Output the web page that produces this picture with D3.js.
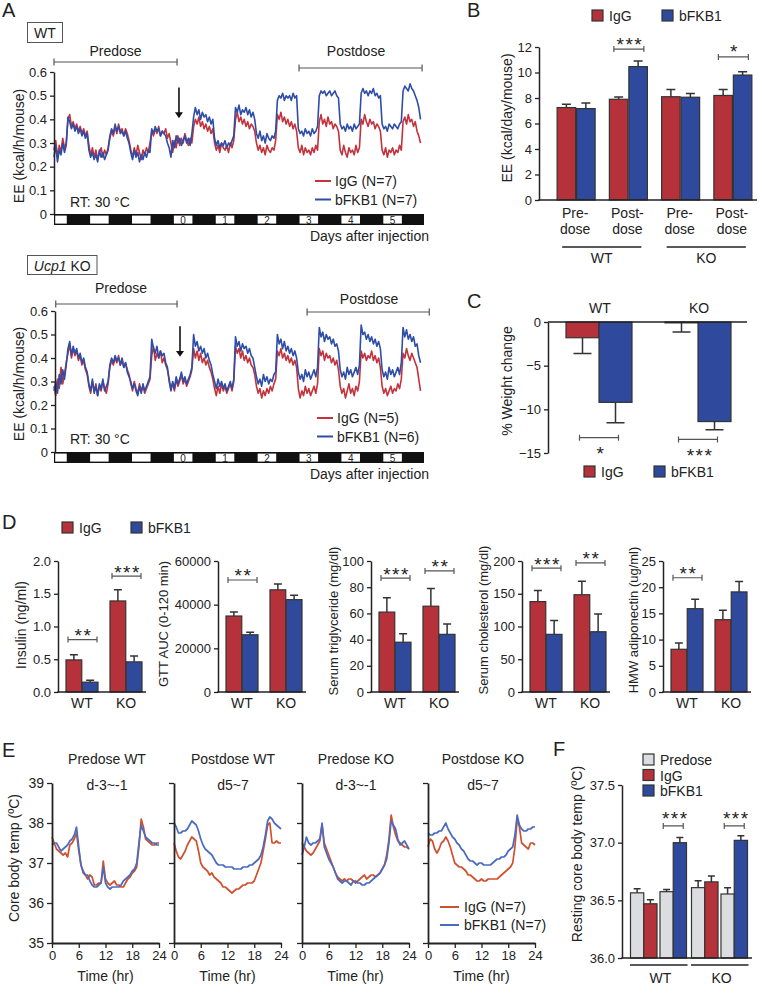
<!DOCTYPE html>
<html><head><meta charset="utf-8">
<script src="https://cdn.jsdelivr.net/npm/d3@7"></script>
<style>
body{margin:0;background:#fff;}
svg{font-family:"Liberation Sans",Arial,Helvetica,sans-serif;}
</style></head>
<body><svg id="fig" width="759" height="986"></svg>
<script>
// ================= DATA =================
// Panel A: energy expenditure (kcal/h/mouse), hourly samples from -68 h to +142 h
const eeStartHour = -68, eeStepHours = 1, eeDomain = [-68, 144];
const eeTicks = [0, 0.1, 0.2, 0.3, 0.4, 0.5, 0.6];
const lightStarts = [-72, -48, -24, 0, 24, 48, 72, 96, 120];
const dayLabels = ["", "", "", "0", "1", "2", "3", "4", "5"];
const eeWT_IgG = [
 .27,.31,.24,.29,.26,.32,.28,.30,
 .40,.42,.37,.39,.36,.38,.35,.37,.34,.36,.33,.35,
 .29,.25,.28,.24,.27,.23,.26,.28,.24,.27,.25,.28,
 .32,.35,.33,.37,.34,.38,.35,.36,.33,.36,.34,.31,
 .27,.24,.28,.25,.29,.26,.23,.27,.25,.28,.26,.30,
 .35,.33,.36,.34,.37,.33,.35,.34,.36,.32,.34,.30,
 .26,.31,.28,.33,.29,.32,.30,.34,.31,.29,.32,.30,
 .37,.40,.38,.41,.37,.39,.36,.38,.35,.37,.34,.36,
 .30,.27,.29,.26,.30,.28,.27,.29,.26,.30,.28,.31,
 .40,.43,.39,.41,.38,.40,.37,.39,.36,.38,.37,.35,
 .30,.27,.29,.26,.28,.25,.29,.27,.26,.28,.27,.31,
 .42,.40,.43,.39,.41,.38,.40,.37,.39,.36,.38,.35,
 .28,.26,.29,.25,.28,.26,.27,.25,.28,.26,.29,.27,
 .39,.42,.38,.40,.37,.41,.38,.39,.36,.38,.37,.35,
 .27,.25,.29,.26,.24,.28,.26,.27,.25,.29,.26,.28,
 .40,.38,.42,.39,.37,.40,.38,.39,.36,.38,.37,.35,
 .27,.25,.28,.24,.27,.26,.28,.25,.27,.26,.29,.27,
 .39,.41,.38,.42,.39,.40,.37,.39,.35,.33,.30];
const eeWT_bFKB1 = [
 .24,.29,.22,.27,.25,.30,.26,.29,
 .41,.39,.36,.38,.35,.37,.34,.36,.33,.35,.32,.34,
 .27,.24,.26,.23,.25,.22,.27,.24,.26,.23,.25,.27,
 .33,.36,.34,.38,.35,.37,.34,.35,.33,.35,.32,.30,
 .26,.23,.27,.24,.26,.22,.25,.23,.26,.24,.27,.26,
 .36,.34,.37,.35,.36,.33,.35,.34,.33,.30,.28,.24,
 .31,.28,.33,.30,.32,.29,.31,.33,.30,.32,.29,.34,
 .41,.45,.42,.44,.40,.43,.41,.42,.39,.41,.38,.40,
 .32,.29,.31,.28,.30,.29,.31,.28,.30,.29,.31,.33,
 .45,.43,.46,.42,.44,.43,.45,.42,.44,.41,.43,.40,
 .34,.32,.35,.31,.33,.30,.34,.32,.31,.33,.32,.35,
 .48,.50,.49,.51,.48,.50,.49,.50,.48,.51,.49,.50,
 .36,.34,.35,.33,.36,.34,.35,.33,.36,.34,.35,.37,
 .50,.52,.51,.52,.50,.51,.52,.50,.51,.52,.50,.49,
 .38,.36,.37,.35,.38,.36,.37,.35,.38,.36,.37,.38,
 .51,.53,.51,.52,.50,.52,.51,.53,.50,.51,.49,.50,
 .38,.36,.37,.35,.38,.37,.36,.38,.37,.36,.38,.39,
 .52,.54,.53,.52,.55,.53,.52,.50,.48,.45,.40];
const eeKO_IgG = [
 .28,.24,.31,.27,.36,.29,.33,.38,
 .42,.46,.40,.44,.41,.43,.39,.41,.37,.39,.35,.33,
 .28,.25,.30,.26,.29,.24,.28,.26,.30,.27,.25,.29,
 .36,.39,.37,.40,.38,.41,.37,.39,.36,.38,.35,.33,
 .29,.26,.30,.27,.25,.29,.26,.28,.25,.27,.29,.31,
 .41,.45,.39,.42,.40,.43,.38,.40,.37,.35,.31,.27,
 .29,.26,.31,.28,.30,.33,.29,.31,.28,.30,.32,.35,
 .44,.40,.43,.39,.42,.38,.40,.37,.39,.36,.34,.31,
 .27,.24,.28,.25,.29,.26,.28,.25,.27,.29,.26,.30,
 .45,.42,.44,.40,.43,.39,.41,.38,.40,.37,.36,.33,
 .28,.25,.27,.23,.26,.24,.27,.25,.28,.26,.29,.31,
 .43,.41,.44,.40,.42,.39,.41,.38,.40,.37,.39,.36,
 .27,.23,.26,.24,.28,.25,.27,.24,.26,.28,.25,.29,
 .44,.41,.43,.39,.42,.40,.41,.38,.40,.37,.39,.35,
 .28,.25,.27,.23,.26,.29,.25,.27,.24,.28,.26,.30,
 .43,.40,.42,.39,.41,.40,.43,.39,.41,.38,.40,.36,
 .28,.25,.27,.24,.26,.28,.25,.27,.26,.29,.27,.31,
 .42,.40,.44,.41,.39,.42,.40,.38,.36,.31,.26];
const eeKO_bFKB1 = [
 .26,.30,.25,.33,.29,.35,.31,.37,
 .44,.47,.41,.45,.42,.44,.40,.42,.38,.40,.36,.34,
 .29,.26,.31,.25,.28,.24,.29,.27,.31,.26,.28,.30,
 .37,.40,.38,.41,.39,.40,.37,.40,.36,.38,.34,.32,
 .30,.27,.29,.26,.24,.28,.25,.29,.26,.28,.30,.32,
 .48,.44,.42,.45,.40,.43,.41,.42,.38,.36,.30,.26,
 .30,.27,.32,.29,.31,.34,.30,.32,.29,.31,.33,.36,
 .50,.45,.47,.43,.45,.42,.44,.40,.42,.39,.37,.33,
 .30,.27,.31,.28,.30,.27,.29,.26,.28,.30,.27,.31,
 .49,.45,.47,.43,.46,.44,.45,.42,.44,.41,.40,.36,
 .32,.29,.31,.28,.33,.30,.32,.29,.31,.30,.33,.34,
 .50,.46,.48,.44,.47,.43,.45,.42,.44,.41,.43,.40,
 .34,.31,.33,.30,.35,.32,.34,.31,.33,.35,.32,.36,
 .53,.49,.51,.47,.50,.48,.49,.46,.48,.45,.46,.43,
 .35,.32,.34,.31,.36,.33,.35,.32,.34,.36,.33,.37,
 .54,.50,.51,.48,.50,.47,.49,.46,.48,.45,.47,.44,
 .35,.32,.34,.31,.36,.33,.35,.32,.34,.36,.33,.38,
 .53,.49,.52,.48,.50,.47,.49,.45,.46,.41,.38];

// Panel B: daily EE (kcal/day/mouse)
const bCats = ["Pre-dose WT", "Post-dose WT", "Pre-dose KO", "Post-dose KO"];
const bTickLines = [["Pre-", "dose"], ["Post-", "dose"], ["Pre-", "dose"], ["Post-", "dose"]];
const bGenotypes = [{label: "WT", cats: ["Pre-dose WT", "Post-dose WT"]}, {label: "KO", cats: ["Pre-dose KO", "Post-dose KO"]}];
const bIgG = [7.25, 7.9, 8.1, 8.2], bIgGErr = [0.26, 0.18, 0.57, 0.47];
const bFKB = [7.17, 10.46, 8.06, 9.8], bFKBErr = [0.44, 0.44, 0.29, 0.25];
const bTicks = [0, 2, 4, 6, 8, 10, 12];
const bSig = [{cat: "Post-dose WT", label: "***", level: 11.84}, {cat: "Post-dose KO", label: "*", level: 11.22}];

// Panel C: % weight change
const cGroups = ["WT", "KO"];
const cIgG = [-1.8, -0.1], cIgGErr = [1.8, 1.05];
const cFKB = [-9.2, -11.4], cFKBErr = [2.35, 0.95];
const cTicks = [0, -5, -10, -15];
const cSig = [{group: "WT", label: "*", level: -13.25}, {group: "KO", label: "***", level: -13.45}];

// Panel D: serum parameters
const dGroups = ["WT", "KO"];
const insulinIgG = [0.49, 1.39], insulinIgGErr = [0.08, 0.17], insulinFKB = [0.15, 0.46], insulinFKBErr = [0.03, 0.09];
const insulinSig = [{group: "WT", label: "**", level: 0.8}, {group: "KO", label: "***", level: 1.77}];
const gttIgG = [34800, 46800], gttIgGErr = [1800, 2700], gttFKB = [26200, 42300], gttFKBErr = [1200, 2000];
const gttSig = [{group: "WT", label: "**", level: 51300}];
const tgIgG = [61, 65.5], tgIgGErr = [11, 13.5], tgFKB = [38, 44], tgFKBErr = [6.5, 8];
const tgSig = [{group: "WT", label: "***", level: 87}, {group: "KO", label: "**", level: 92.4}];
const cholIgG = [138, 148.5], cholIgGErr = [17, 20.5], cholFKB = [88, 92], cholFKBErr = [21, 27];
const cholSig = [{group: "WT", label: "***", level: 189}, {group: "KO", label: "**", level: 197}];
const adipoIgG = [8.15, 13.8], adipoIgGErr = [1.2, 1.8], adipoFKB = [15.9, 19.1], adipoFKBErr = [1.8, 2.0];
const adipoSig = [{group: "WT", label: "**", level: 21.8}];

// Panel E: core body temperature, 0.5 h samples over 24 h
const tempStepHours = 0.5;
const tempTicksY = [35, 36, 37, 38, 39], tempTicksX = [0, 6, 12, 18, 24];
const tPreWT_IgG = [37.65,37.5,37.35,37.3,37.25,37.2,37.25,37.15,37.45,37.5,37.6,37.75,37.3,36.95,36.8,36.7,36.6,36.7,36.65,36.45,36.45,36.5,36.5,37.05,36.6,36.5,36.45,36.5,36.55,36.45,36.45,36.4,36.4,36.5,36.6,36.65,36.75,36.8,36.9,37.4,38.1,37.9,37.6,37.55,37.5,37.45,37.45,37.5,37.5];
const tPreWT_bFKB1 = [37.45,37.5,37.5,37.4,37.3,37.35,37.4,37.45,37.55,37.6,37.7,37.9,37.4,36.95,36.75,36.7,36.7,36.55,36.45,36.4,36.4,36.45,36.5,36.9,36.5,36.4,36.35,36.4,36.4,36.4,36.4,36.45,36.55,36.6,36.65,36.7,36.8,36.85,37.0,37.5,37.95,37.8,37.65,37.6,37.55,37.5,37.5,37.45,37.45];
const tPostWT_IgG = [37.5,37.3,37.15,37.1,37.2,37.3,37.45,37.55,37.65,37.6,37.55,37.3,37.0,36.9,36.85,36.8,36.7,36.75,36.65,36.6,36.55,36.5,36.4,36.4,36.35,36.3,36.25,36.3,36.35,36.35,36.4,36.45,36.45,36.5,36.5,36.5,36.55,36.7,36.85,37.0,37.3,37.6,37.95,38.0,37.5,37.5,37.55,37.5,37.5];
const tPostWT_bFKB1 = [38.0,37.9,37.75,37.75,37.8,37.8,37.85,37.95,38.05,38.0,37.95,37.8,37.6,37.45,37.35,37.3,37.25,37.2,37.1,37.0,36.95,36.95,36.95,36.9,36.9,36.9,36.9,36.85,36.85,36.85,36.85,36.9,36.9,36.9,36.95,36.95,37.0,37.05,37.1,37.2,37.4,37.7,38.05,38.15,38.1,38.0,37.95,37.9,37.85];
const tPreKO_IgG = [37.5,37.4,37.3,37.25,37.2,37.25,37.35,37.45,37.55,37.95,37.5,37.35,37.2,37.05,36.9,36.75,36.65,36.6,36.55,36.6,36.55,36.6,36.6,36.55,36.5,36.55,36.6,36.65,36.7,36.6,36.65,36.7,36.7,36.65,36.7,36.75,36.85,36.95,37.2,37.6,38.2,37.9,37.7,37.55,37.5,37.45,37.4,37.4,37.35];
const tPreKO_bFKB1 = [37.2,37.4,37.65,37.5,37.45,37.5,37.5,37.55,37.6,38.0,37.4,37.25,37.1,37.0,36.9,36.75,36.6,36.55,36.5,36.55,36.55,36.5,36.45,36.55,36.55,36.5,36.5,36.45,36.45,36.5,36.5,36.55,36.6,36.65,36.7,36.75,36.85,36.95,37.1,37.5,38.05,37.95,37.85,37.6,37.45,37.5,37.55,37.45,37.35];
const tPostKO_IgG = [37.4,37.6,37.55,37.35,37.25,37.35,37.5,37.55,37.65,37.55,37.4,37.2,37.0,36.95,36.9,36.9,36.85,36.8,36.7,36.7,36.65,36.6,36.55,36.55,36.6,36.55,36.55,36.6,36.6,36.6,36.6,36.6,36.65,36.7,36.75,36.8,36.85,36.9,37.0,37.4,38.1,37.9,37.5,37.45,37.4,37.35,37.5,37.5,37.45];
const tPostKO_bFKB1 = [37.75,37.7,37.7,37.75,37.75,37.8,37.8,37.9,38.0,37.85,37.75,37.65,37.6,37.5,37.45,37.35,37.3,37.2,37.1,37.05,37.05,37.0,36.95,37.0,37.0,36.95,36.95,36.95,36.95,37.0,37.05,37.1,37.1,37.15,37.15,37.2,37.3,37.35,37.4,37.7,38.2,37.95,37.85,37.8,37.8,37.85,37.85,37.9,37.9];

// Panel F: resting core body temperature
const fGroups = ["WT", "KO"];
const fPreIgGArm = [36.565, 36.61], fPreIgGArmErr = [0.035, 0.06];
const fIgG = [36.47, 36.66], fIgGErr = [0.035, 0.05];
const fPreFKBArm = [36.575, 36.555], fPreFKBArmErr = [0.02, 0.055];
const fFKB = [37.0, 37.02], fFKBErr = [0.045, 0.04];
const fTicks = [36.0, 36.5, 37.0, 37.5];
const fSigLevel = 37.145;

// ================= DRAWING =================
const FONT = '"Liberation Sans", Arial, Helvetica, sans-serif';
const INK = "#222";
const RED = "#b5323a", BLUE = "#2f4a9d", GRAY = "#dcdde0";
const A_RED = "#c4333b", A_BLUE = "#2d4da8";
const E_RED = "#d0502e", E_BLUE = "#4a6bc0";
const svg = d3.select("#fig");

function T(x, y, s, o = {}) {
  const t = svg.append("text").attr("x", x).attr("y", y).attr("font-size", o.size || 14)
    .attr("text-anchor", o.anchor || "start").attr("fill", o.fill || INK).text(s);
  if (o.rot) t.attr("transform", `rotate(-90,${x},${y})`);
  if (o.ls) t.attr("letter-spacing", o.ls);
  return t;
}
function styleAxis(g, size) {
  g.attr("font-family", FONT).attr("font-size", size);
  g.select(".domain").attr("stroke", INK).attr("stroke-width", 1.5);
  g.selectAll(".tick line").attr("stroke", INK).attr("stroke-width", 1.3);
  g.selectAll(".tick text").attr("fill", INK);
}
function hline(x0, x1, y, w = 1.5, col = INK) {
  svg.append("line").attr("x1", x0).attr("x2", x1).attr("y1", y).attr("y2", y).attr("stroke", col).attr("stroke-width", w);
}
function bracket(x0, x1, y, h = 3) {
  svg.append("path").attr("d", `M${x0},${y - h}V${y + h}M${x0},${y}H${x1}M${x1},${y - h}V${y + h}`)
    .attr("stroke", "#555").attr("stroke-width", 1.2).attr("fill", "none");
}
function stars(cx, cy, s) {
  T(cx + 1, cy + 10.5, s, {size: 19, anchor: "middle", ls: 1.5});
}
function errBar(cx, y0, y1, cap) {
  svg.append("path").attr("d", `M${cx},${y0}V${y1}M${cx - cap / 2},${y1}H${cx + cap / 2}`)
    .attr("stroke", "#333").attr("stroke-width", 1.5).attr("fill", "none");
}
function bar(x, y0, w, y1, col) {
  svg.append("rect").attr("x", x).attr("y", Math.min(y0, y1)).attr("width", w).attr("height", Math.abs(y1 - y0))
    .attr("fill", col).attr("stroke", "#333").attr("stroke-width", 1.2);
}
function legendSquare(x, y, col, label, size = 14) {
  svg.append("rect").attr("x", x).attr("y", y).attr("width", 11).attr("height", 11).attr("fill", col).attr("stroke", "#333").attr("stroke-width", 1.2);
  T(x + 17, y + 11, label, {size});
}

// ---------- Panel letters ----------
T(2, 17, "A", {size: 20}); T(467, 17, "B", {size: 20}); T(467, 308, "C", {size: 20});
T(2, 529, "D", {size: 20}); T(2, 757, "E", {size: 20}); T(553, 756, "F", {size: 20});

// ---------- Panel A ----------
function drawEE(o) {
  const x = d3.scaleLinear(eeDomain, [o.x0, o.x1]);
  const y = d3.scaleLinear([0, 0.6], [o.yZero, o.yTop]);
  svg.append("rect").attr("x", o.x0).attr("y", o.yZero).attr("width", o.x1 - o.x0).attr("height", 11).attr("fill", "#111");
  lightStarts.forEach((s, i) => {
    const a = x(Math.max(s, eeDomain[0])), b = x(Math.min(s + 12, eeDomain[1]));
    svg.append("rect").attr("x", a + 1.2).attr("y", o.yZero + 1.6).attr("width", b - a - 2.4).attr("height", 8).attr("fill", "#fff");
    if (dayLabels[i]) T((a + b) / 2, o.yZero + 9.8, dayLabels[i], {size: 10, anchor: "middle"});
  });
  const line = d3.line().x((d, i) => x(eeStartHour + i * eeStepHours)).y(d => y(d));
  svg.append("path").datum(o.igg).attr("d", line).attr("fill", "none").attr("stroke", A_RED).attr("stroke-width", 1.6).attr("stroke-linejoin", "round");
  svg.append("path").datum(o.fkb).attr("d", line).attr("fill", "none").attr("stroke", A_BLUE).attr("stroke-width", 1.6).attr("stroke-linejoin", "round");
  const ax = svg.append("g").attr("transform", `translate(${o.axisX},0)`)
    .call(d3.axisLeft(y).tickValues(eeTicks).tickFormat(d => d === 0 ? "0" : d.toFixed(1)).tickSize(4).tickPadding(3).tickSizeOuter(0));
  styleAxis(ax, 13);
  o.brackets.forEach(b => {
    bracket(x(b.from), x(b.to), b.y, 3.5);
    T(b.tx, b.ty, b.label, {size: 14, anchor: "middle"});
  });
  // injection arrow
  const axp = x(o.arrowHour);
  svg.append("line").attr("x1", axp).attr("x2", axp).attr("y1", y(0.535)).attr("y2", y(0.42)).attr("stroke", "#111").attr("stroke-width", 1.6);
  svg.append("path").attr("d", `M${axp - 4},${y(0.43)}L${axp + 4},${y(0.43)}L${axp},${y(0.405)}Z`).attr("fill", "#111");
  // box label
  svg.append("rect").attr("x", o.box[0]).attr("y", o.box[1]).attr("width", o.box[2]).attr("height", o.box[3]).attr("fill", "none").attr("stroke", "#555").attr("stroke-width", 1);
  const bt = svg.append("text").attr("x", o.box[0] + o.box[2] / 2).attr("y", o.box[1] + 15).attr("text-anchor", "middle").attr("font-size", 14).attr("fill", INK);
  o.boxText.forEach(p => bt.append("tspan").attr("font-style", p.italic ? "italic" : "normal").text(p.t));
  // legend
  svg.append("line").attr("x1", o.legX).attr("x2", o.legX + 16).attr("y1", o.legY).attr("y2", o.legY).attr("stroke", A_RED).attr("stroke-width", 2);
  T(o.legX + 20, o.legY + 5, o.legIgG, {size: 14});
  svg.append("line").attr("x1", o.legX).attr("x2", o.legX + 16).attr("y1", o.legY + 18.5).attr("y2", o.legY + 18.5).attr("stroke", A_BLUE).attr("stroke-width", 2);
  T(o.legX + 20, o.legY + 23.5, o.legFKB, {size: 14});
  T(70, o.rtY, "RT: 30 °C", {size: 14});
  T(429, o.daysY, "Days after injection", {size: 14, anchor: "end"});
  T(o.ylabX, o.ylabY, "EE (kcal/h/mouse)", {size: 14, anchor: "middle", rot: true});
}
drawEE({x0: 54, x1: 424, axisX: 54, yZero: 214, yTop: 72, igg: eeWT_IgG, fkb: eeWT_bFKB1,
  brackets: [{from: -68, to: 2.5, y: 62, label: "Predose", tx: 115.5, ty: 56}, {from: 72.4, to: 142.9, y: 68, label: "Postdose", tx: 356, ty: 56}],
  arrowHour: 3.6, box: [27.5, 22.5, 35, 20], boxText: [{t: "WT"}],
  legX: 315, legY: 181, legIgG: "IgG (N=7)", legFKB: "bFKB1 (N=7)", rtY: 207, daysY: 241, ylabX: 24, ylabY: 146});
drawEE({x0: 54, x1: 424, axisX: 55, yZero: 452, yTop: 311, igg: eeKO_IgG, fkb: eeKO_bFKB1,
  brackets: [{from: -67, to: 2.5, y: 304, label: "Predose", tx: 121, ty: 293}, {from: 77, to: 147, y: 312, label: "Postdose", tx: 369, ty: 304}],
  arrowHour: 4.2, box: [27.5, 255.5, 69.5, 19], boxText: [{t: "Ucp1", italic: true}, {t: " KO"}],
  legX: 317, legY: 418, legIgG: "IgG (N=5)", legFKB: "bFKB1 (N=6)", rtY: 444, daysY: 479, ylabX: 24, ylabY: 384});

// ---------- Panel B ----------
{
  const bx = d3.scaleBand(bCats, [550, 759]);
  const bsub = d3.scaleBand(["IgG", "bFKB1"], [-19, 19]).paddingInner(0.05);
  const by = d3.scaleLinear([0, 12], [200, 47]);
  const cx = c => bx(c) + bx.bandwidth() / 2;
  bCats.forEach((c, i) => {
    [[bIgG, bIgGErr, RED, "IgG"], [bFKB, bFKBErr, BLUE, "bFKB1"]].forEach(([v, e, col, k]) => {
      const x0 = cx(c) + bsub(k), w = bsub.bandwidth();
      errBar(x0 + w / 2, by(v[i]), by(v[i] + e[i]), 9);
      bar(x0, by(0), w, by(v[i]), col);
    });
    T(cx(c) - 1, 218, bTickLines[i][0], {size: 14, anchor: "middle"});
    T(cx(c) - 1, 234, bTickLines[i][1], {size: 14, anchor: "middle"});
  });
  const ax = svg.append("g").attr("transform", "translate(539,0)")
    .call(d3.axisLeft(by).tickValues(bTicks).tickSize(4).tickPadding(3).tickSizeOuter(0));
  styleAxis(ax, 13);
  hline(538.3, 757, 200);
  bGenotypes.forEach(g => {
    const a = cx(g.cats[0]) - 14, b = cx(g.cats[1]) + 13;
    hline(a, b, 247, 1.3);
    T((a + b) / 2, 263, g.label, {size: 14, anchor: "middle"});
  });
  bSig.forEach(s => {
    const c = cx(s.cat);
    bracket(c - 14.5, c + 15.5, by(s.level), 3);
    stars(c + 0.5, by(s.level) - 9, s.label);
  });
  T(512, 118, "EE (kcal/day/mouse)", {size: 14, anchor: "middle", rot: true});
  legendSquare(592, 10, RED, "IgG");
  legendSquare(662, 10, BLUE, "bFKB1");
}

// ---------- Panel C ----------
{
  const cx0 = d3.scaleBand(cGroups, [549.5, 747.5]);
  const csub = d3.scaleBand(["IgG", "bFKB1"], [-33, 33]);
  const cy = d3.scaleLinear([-15, 0], [453, 322]);
  const cx = g => cx0(g) + cx0.bandwidth() / 2;
  cGroups.forEach((g, i) => {
    [[cIgG, cIgGErr, RED, "IgG"], [cFKB, cFKBErr, BLUE, "bFKB1"]].forEach(([v, e, col, k]) => {
      const x0 = cx(g) + csub(k), w = csub.bandwidth();
      errBar(x0 + w / 2, cy(v[i]), cy(v[i] - e[i]), 18);
      bar(x0, cy(0), w, cy(v[i]), col);
    });
    T(cx(g) + 1, 313, g, {size: 14, anchor: "middle"});
  });
  hline(548, 747, cy(0));
  const ax = svg.append("g").attr("transform", "translate(548,0)")
    .call(d3.axisLeft(cy).tickValues(cTicks).tickSize(4).tickPadding(3).tickSizeOuter(0));
  styleAxis(ax, 13);
  cSig.forEach(s => {
    const c = cx(s.group);
    bracket(c - 19.5, c + 19.5, cy(s.level), 3);
    stars(c + 1, cy(s.level) + 12, s.label);
  });
  T(512, 381, "% Weight change", {size: 14, anchor: "middle", rot: true});
  legendSquare(584, 466, RED, "IgG");
  legendSquare(654, 466, BLUE, "bFKB1");
}

// ---------- Panel D ----------
{
  const panels = [
    {axisX: 58, domain: [0, 2], ticks: [0, 0.5, 1, 1.5, 2], fmt: d3.format(".1f"), igg: insulinIgG, iggErr: insulinIgGErr, fkb: insulinFKB, fkbErr: insulinFKBErr, sig: insulinSig, label: "Insulin (ng/ml)", lx: 26, ly: 625, ls: 14},
    {axisX: 218, domain: [0, 60000], ticks: [0, 20000, 40000, 60000], fmt: d => String(d), igg: gttIgG, iggErr: gttIgGErr, fkb: gttFKB, fkbErr: gttFKBErr, sig: gttSig, label: "GTT AUC (0-120 min)", lx: 168, ly: 624, ls: 13},
    {axisX: 371, domain: [0, 100], ticks: [0, 20, 40, 60, 80, 100], fmt: d => String(d), igg: tgIgG, iggErr: tgIgGErr, fkb: tgFKB, fkbErr: tgFKBErr, sig: tgSig, label: "Serum triglyceride (mg/dl)", lx: 338, ly: 621, ls: 13},
    {axisX: 522, domain: [0, 200], ticks: [0, 50, 100, 150, 200], fmt: d => String(d), igg: cholIgG, iggErr: cholIgGErr, fkb: cholFKB, fkbErr: cholFKBErr, sig: cholSig, label: "Serum cholesterol (mg/dl)", lx: 488, ly: 620, ls: 13},
    {axisX: 663, domain: [0, 25], ticks: [0, 5, 10, 15, 20, 25], fmt: d => String(d), igg: adipoIgG, iggErr: adipoIgGErr, fkb: adipoFKB, fkbErr: adipoFKBErr, sig: adipoSig, label: "HMW adiponectin (ug/ml)", lx: 638, ly: 620, ls: 13}
  ];
  panels.forEach(p => {
    const y = d3.scaleLinear(p.domain, [692, 561]);
    const gx = d3.scaleBand(dGroups, [p.axisX + 2, p.axisX + 90]);
    const sub = d3.scaleBand(["IgG", "bFKB1"], [-16, 16]).paddingInner(0.03);
    const cx = g => gx(g) + gx.bandwidth() / 2;
    dGroups.forEach((g, i) => {
      [[p.igg, p.iggErr, RED, "IgG"], [p.fkb, p.fkbErr, BLUE, "bFKB1"]].forEach(([v, e, col, k]) => {
        const x0 = cx(g) + sub(k), w = sub.bandwidth();
        errBar(x0 + w / 2, y(v[i]), y(v[i] + e[i]), 8);
        bar(x0, y(0), w, y(v[i]), col);
      });
      T(cx(g), 708, g, {size: 14, anchor: "middle"});
    });
    const ax = svg.append("g").attr("transform", `translate(${p.axisX},0)`)
      .call(d3.axisLeft(y).tickValues(p.ticks).tickFormat(p.fmt).tickSize(4).tickPadding(3).tickSizeOuter(0));
    styleAxis(ax, 13);
    hline(p.axisX - 0.7, p.axisX + 88, 692);
    p.sig.forEach(s => {
      const c = cx(s.group);
      bracket(c - 14, c + 15, y(s.level), 3);
      stars(c + 0.5, y(s.level) - 8, s.label);
    });
    T(p.lx, p.ly, p.label, {size: p.ls, anchor: "middle", rot: true});
  });
  legendSquare(62, 522, RED, "IgG");
  legendSquare(131, 522, BLUE, "bFKB1");
}

// ---------- Panel E ----------
{
  const y = d3.scaleLinear([35, 39], [943, 783]);
  const panels = [
    {ax: 52, title: "Predose WT", sub: "d-3~-1", tx: 107, igg: tPreWT_IgG, fkb: tPreWT_bFKB1},
    {ax: 174, title: "Postdose WT", sub: "d5~7", tx: 233, igg: tPostWT_IgG, fkb: tPostWT_bFKB1},
    {ax: 302, title: "Predose KO", sub: "d-3~-1", tx: 356, igg: tPreKO_IgG, fkb: tPreKO_bFKB1},
    {ax: 428, title: "Postdose KO", sub: "d5~7", tx: 483, igg: tPostKO_IgG, fkb: tPostKO_bFKB1}
  ];
  panels.forEach((p, k) => {
    const x = d3.scaleLinear([0, 24], [p.ax, p.ax + 107]);
    const line = d3.line().x((d, i) => x(i * tempStepHours)).y(d => y(d));
    svg.append("path").datum(p.igg).attr("d", line).attr("fill", "none").attr("stroke", E_RED).attr("stroke-width", 1.7).attr("stroke-linejoin", "round");
    svg.append("path").datum(p.fkb).attr("d", line).attr("fill", "none").attr("stroke", E_BLUE).attr("stroke-width", 1.7).attr("stroke-linejoin", "round");
    const ayg = svg.append("g").attr("transform", `translate(${p.ax},0)`)
      .call(d3.axisLeft(y).tickValues(tempTicksY).tickFormat(k === 0 ? (d => d) : (() => "")).tickSize(5).tickPadding(3).tickSizeOuter(0));
    styleAxis(ayg, 14);
    ayg.select(".domain").attr("stroke-width", 1.8);
    const axg = svg.append("g").attr("transform", "translate(0,943)")
      .call(d3.axisBottom(x).tickValues(tempTicksX).tickSize(5).tickPadding(3).tickSizeOuter(0));
    styleAxis(axg, 13);
    axg.select(".domain").attr("stroke-width", 1.8);
    T(p.tx, 764, p.title, {size: 14, anchor: "middle"});
    T(p.tx, 790, p.sub, {size: 14, anchor: "middle"});
    T(p.ax + 53.5, 981, "Time (hr)", {size: 14, anchor: "middle"});
  });
  T(19, 858, "Core body temp (ºC)", {size: 14, anchor: "middle", rot: true});
  svg.append("line").attr("x1", 440).attr("x2", 459).attr("y1", 907).attr("y2", 907).attr("stroke", E_RED).attr("stroke-width", 2);
  T(464, 912, "IgG (N=7)", {size: 14});
  svg.append("line").attr("x1", 440).attr("x2", 459).attr("y1", 925).attr("y2", 925).attr("stroke", E_BLUE).attr("stroke-width", 2);
  T(464, 930, "bFKB1 (N=7)", {size: 14});
}

// ---------- Panel F ----------
{
  const fx = d3.scaleBand(fGroups, [628, 750]);
  const fpair = d3.scaleBand(["IgG", "bFKB1"], [-28, 28]).paddingInner(0.1);
  const fy = d3.scaleLinear([36, 37.5], [958, 785]);
  fGroups.forEach((g, i) => {
    const cx = fx(g) + fx.bandwidth() / 2;
    const arms = [
      {arm: "IgG", bars: [[fPreIgGArm, fPreIgGArmErr, GRAY], [fIgG, fIgGErr, RED]]},
      {arm: "bFKB1", bars: [[fPreFKBArm, fPreFKBArmErr, GRAY], [fFKB, fFKBErr, BLUE]]}
    ];
    arms.forEach(a => {
      const px = cx + fpair(a.arm), w = fpair.bandwidth() / 2;
      a.bars.forEach(([v, e, col], j) => {
        const x0 = px + j * w;
        errBar(x0 + w / 2, fy(v[i]), fy(v[i] + e[i]), 7);
        bar(x0, fy(36), w, fy(v[i]), col);
      });
      if (a.arm === "bFKB1") {
        const bc = px + fpair.bandwidth() / 2;
        bracket(bc - 10, bc + 10, fy(fSigLevel), 3);
        stars(bc + 1, fy(fSigLevel) - 11, "***");
      }
    });
    hline(cx - 28.5, cx + 29, 965, 1.6);
    T(cx + 2, 983, g, {size: 14, anchor: "middle"});
  });
  const ax = svg.append("g").attr("transform", "translate(622,0)")
    .call(d3.axisLeft(fy).tickValues(fTicks).tickFormat(d3.format(".1f")).tickSize(4).tickPadding(3).tickSizeOuter(0));
  styleAxis(ax, 13);
  hline(621.3, 752, 958);
  T(582, 854, "Resting core body temp (ºC)", {size: 14, anchor: "middle", rot: true});
  legendSquare(643, 754, GRAY, "Predose");
  legendSquare(643, 769.5, RED, "IgG");
  legendSquare(643, 785, BLUE, "bFKB1");
}
</script></body></html>
